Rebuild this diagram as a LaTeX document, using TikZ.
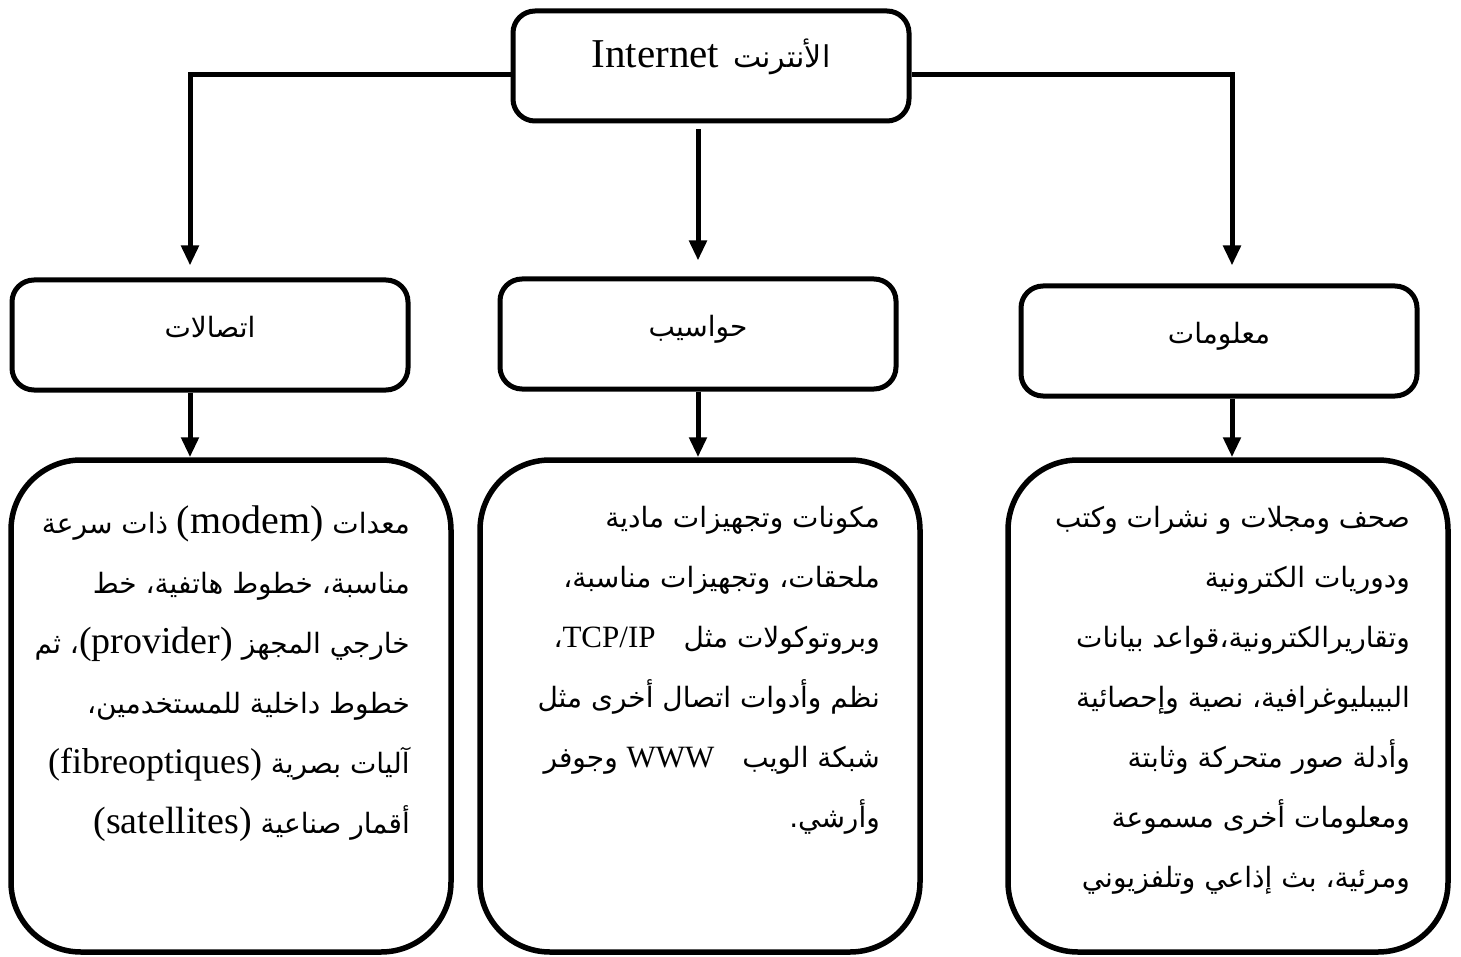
\documentclass[tikz,border=0pt]{standalone}
\usepackage{fontspec}
\setmainfont{Liberation Serif}
\newfontfamily\arabicfont[Script=Arabic]{DejaVu Sans}
\TeXXeTstate=1
\usetikzlibrary{arrows.meta}
\newcommand\lat[2][30]{\beginL{\rmfamily\fontsize{#1}{60}\selectfont #2}\endL}

\tikzset{
	headbox/.style={draw, line width=5pt, rounded corners=22pt, minimum width=396pt, minimum height=110pt, text depth=16pt},
	detailbox/.style={draw, line width=5.5pt, rounded corners=70pt, minimum width=440pt, minimum height=492pt},
	bodytext/.style={font=\arabicfont\fontsize{28}{60}\selectfont, align=right, inner sep=0pt, anchor=north east},
	link/.style={line width=5pt, -{Triangle[length=20pt,width=17pt]}}
}

\begin{document}
\begin{tikzpicture}[x=1pt,y=-1pt]
		\useasboundingbox (0,0) rectangle (1461,957);

		\node[headbox, text depth=26pt, font=\arabicfont\fontsize{30}{48}\selectfont] (net) at (711,66) {\beginR الأنترنت\hspace{14pt}\lat[41]{Internet}\endR};

		\node[headbox, font=\arabicfont\fontsize{28}{34}\selectfont] (comm) at (210,335) {\beginR اتصالات\endR};
		\node[headbox, font=\arabicfont\fontsize{28}{34}\selectfont] (comp) at (698,334) {\beginR حواسيب\endR};
		\node[headbox, font=\arabicfont\fontsize{28}{34}\selectfont] (info) at (1219,341) {\beginR معلومات\endR};

		\node[detailbox] (commdet) at (231,706) {};
		\node[detailbox] (compdet) at (700,706) {};
		\node[detailbox] (infodet) at (1228,706) {};

		\node[bodytext] (commtxt) at (410,506) {%
			\beginR معدات \lat[40]{(modem)} ذات سرعة\endR\\
			\beginR مناسبة، خطوط هاتفية، خط\endR\\
			\beginR خارجي المجهز \lat[38]{(provider)}، ثم\endR\\
			\beginR خطوط داخلية للمستخدمين،\endR\\
			\beginR آليات بصرية \lat[36]{(fibreoptiques)}\endR\\
			\beginR أقمار صناعية \lat[38]{(satellites)}\endR};
		\node[bodytext] (comptxt) at (880,506) {%
			\beginR مكونات وتجهيزات مادية\endR\\
			\beginR ملحقات، وتجهيزات مناسبة،\endR\\
			\beginR وبروتوكولات مثل\quad\lat[31]{TCP/IP}،\endR\\
			\beginR نظم وأدوات اتصال أخرى مثل\endR\\
			\beginR شبكة الويب\quad\lat[31]{WWW} وجوفر\endR\\
			\beginR وأرشي.\endR};
		\node[bodytext] (infotxt) at (1410,506) {%
			\beginR صحف ومجلات و نشرات وكتب\endR\\
			\beginR ودوريات الكترونية\endR\\
			\beginR وتقاريرالكترونية،قواعد بيانات\endR\\
			\beginR البيبليوغرافية، نصية وإحصائية\endR\\
			\beginR وأدلة صور متحركة وثابتة\endR\\
			\beginR ومعلومات أخرى مسموعة\endR\\
			\beginR ومرئية، بث إذاعي وتلفزيوني\endR};

		\draw[link, shorten >=12pt] ([yshift=-9pt]net.west) -| ([xshift=-20pt]comm.north);
		\draw[link, shorten <=6pt, shorten >=16pt] (net.south -| comp.north) -- (comp.north);
		\draw[link, shorten >=18pt] ([yshift=-9pt]net.east) -| ([xshift=13pt]info.north);

		\draw[link] ([xshift=-20pt]comm.south) -- ([xshift=-20pt]comm.south |- commdet.north);
		\draw[link] (comp.south) -- (comp.south |- compdet.north);
		\draw[link] ([xshift=13pt]info.south) -- ([xshift=13pt]info.south |- infodet.north);
	\end{tikzpicture}
\end{document}
